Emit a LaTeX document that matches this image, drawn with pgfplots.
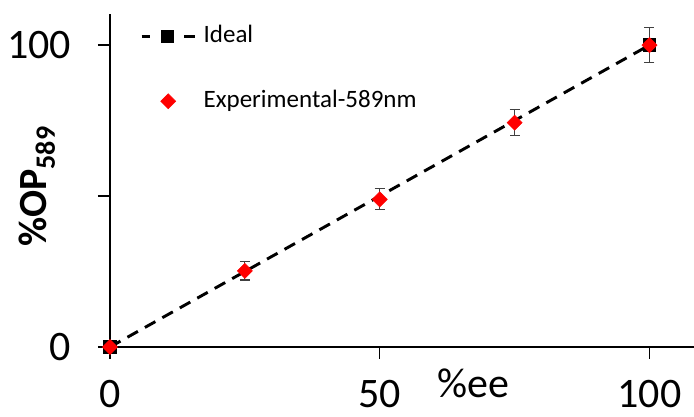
\documentclass[border=0pt]{standalone}
\usepackage{fontspec}
\setmainfont{Carlito}
\usepackage{pgfplots}
\pgfplotsset{compat=1.18}
\pgfplotsset{
  ideal legend/.style={legend image code/.code={
    \draw[##1, solid, line width=2.2pt] (0pt,0pt) -- (6.5pt,0pt);
    \draw[##1, solid, line width=2.2pt] (32pt,0pt) -- (40pt,0pt);
    \path[##1] plot coordinates {(19.5pt,0pt)};
  }},
  exp legend/.style={legend image code/.code={
    \path[##1] plot coordinates {(20pt,0pt)};
  }},
}
\begin{document}
\begin{tikzpicture}
\begin{axis}[
  name=ax,
  width=438pt, height=249.75pt, scale only axis,
  xmin=0, xmax=108.25, ymin=0, ymax=110.3,
  axis x line*=bottom, axis y line*=left,
  axis line style={line width=1.5pt, -},
  clip=false,
  tick align=outside,
  major tick length=9pt,
  every tick/.style={line width=1.1pt, black},
  xtick={0,50,100}, ytick={0,50,100},
  yticklabels={0,,100},
  /pgf/number format/assume math mode=true,
  ticklabel style={font=\fontsize{31.5}{36}\selectfont, inner sep=0pt},
  xticklabel style={anchor=north, yshift=-16pt},
  yticklabel style={anchor=east, xshift=-20pt},
  xlabel={\%ee},
  xlabel style={at={(rel axis cs:0.6216,-0.153)}, anchor=base, font=\fontsize{31.5}{36}\selectfont, inner sep=0pt},
  ylabel={\textbf{\%OP\textsubscript{589}}},
  ylabel style={at={(rel axis cs:-0.1079,0.482)}, rotate=0, anchor=base, font=\fontsize{30}{34}\selectfont, inner sep=0pt},
  legend style={at={(rel axis cs:0.051,0.967)}, anchor=north west, draw=none, fill=none,
    font=\fontsize{18.75}{22}\selectfont, row sep=31.5pt, inner sep=0pt,
    nodes={inner xsep=0pt, inner ysep=0pt, text height=13pt, text depth=4pt},
    /tikz/every odd column/.style={column sep=5.5pt}},
  legend cell align=left,
]
\addplot[black, line width=2.2pt, dash pattern=on 9pt off 6pt,
  mark=square*, mark size=4pt, mark options={solid}, ideal legend]
  coordinates {(0,0) (100,100)};
\addlegendentry{Ideal}
\addplot[only marks, red, mark=square*, mark size=4pt, mark options={rotate=45, red},
  exp legend,
  error bars/.cd, y dir=both, y explicit,
  error bar style={color=black!75, line width=0.8pt},
  error mark options={rotate=90, mark size=3.75pt, line width=0.8pt, color=black!75},
  ]
  coordinates {(0,0) +- (0,0) (25,25.2) +- (0,3.0) (50,48.9) +- (0,3.5) (75,74.3) +- (0,4.4) (100,100) +- (0,5.7)};
\addlegendentry{Experimental-589nm}
\end{axis}
\pgfresetboundingbox
\path ([shift={(-82.5pt,-52.5pt)}]ax.south west) rectangle ([shift={(0pt,10.5pt)}]ax.north east);
\end{tikzpicture}
\end{document}
